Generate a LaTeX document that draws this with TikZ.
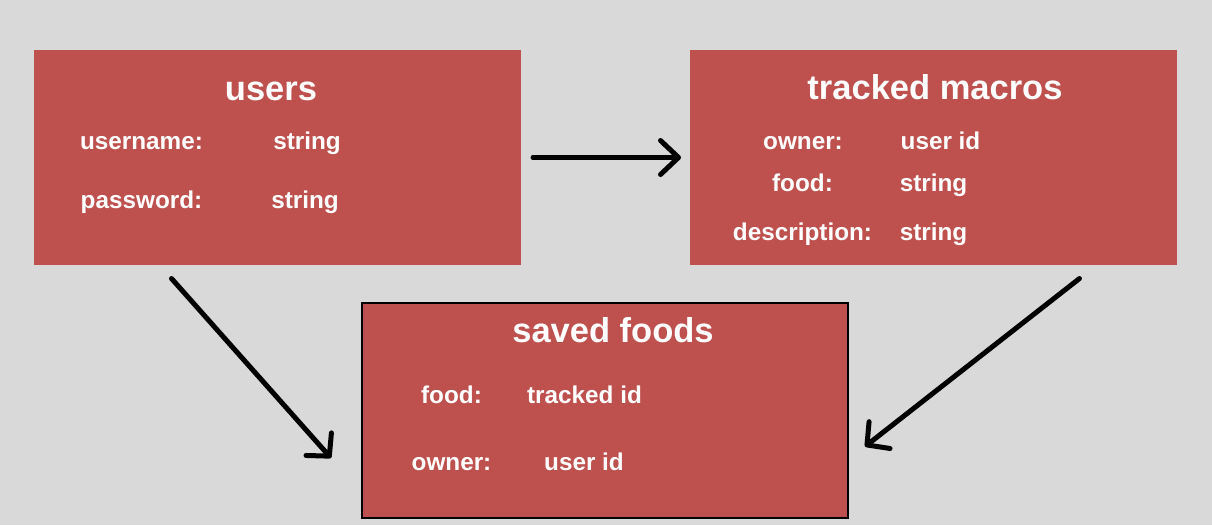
\documentclass[tikz,border=0pt]{standalone}
\usepackage{fontspec}
\setmainfont{Liberation Sans}
\usetikzlibrary{arrows.meta}
\definecolor{bgc}{HTML}{D9D9D9}
\definecolor{boxred}{HTML}{BE504E}
\tikzset{
  tablebox/.style={fill=boxred, draw=none, inner sep=0pt, outer sep=0pt, minimum width=487pt, minimum height=215pt},
  framedbox/.style={tablebox, draw=black, line width=1.5pt},
  title/.style={text=white, inner sep=0pt, anchor=base, font=\bfseries\fontsize{34.5}{40}\selectfont},
  field/.style={text=white, inner sep=0pt, anchor=base, font=\bfseries\fontsize{24.3}{28}\selectfont},
  link/.style={line width=5pt, line cap=round, line join=round, black},
  hbarb/.style={-{Straight Barb[length=18pt, width=34pt, line cap=round, line join=round]}},
  dbarb/.style={-{Straight Barb[length=16pt, width=34pt, line cap=round, line join=round]}}
}
\begin{document}
\begin{tikzpicture}[x=1pt, y=-1pt]
\fill[bgc] (0,0) rectangle (1212,525);
\useasboundingbox (0,0) rectangle (1212,525);

% boxes
\node[tablebox] (users) at (277.5,157.5) {};
\node[tablebox] (tracked) at (933.5,157.5) {};
\node[framedbox, minimum width=486pt] (saved) at (605,410.5) {};

% users
\node[title] (usersT) at (271,100) {users};
\node[field] (uName) at (141.5,149) {username:};
\node[field] (uNameV) at (307,149) {string};
\node[field] (uPass) at (141.5,208) {password:};
\node[field] (uPassV) at (305,208) {string};

% tracked macros
\node[title] (trackedT) at (935,99) {tracked macros};
\node[field] (tOwner) at (803,149) {owner:};
\node[field] (tOwnerV) at (940.5,149) {user id};
\node[field] (tFood) at (802.5,191) {food:};
\node[field] (tFoodV) at (933.5,191) {string};
\node[field] (tDesc) at (802.5,240) {description:};
\node[field] (tDescV) at (933.5,240) {string};

% saved foods
\node[title] (savedT) at (613,342) {saved foods};
\node[field] (sFood) at (451.5,403) {food:};
\node[field] (sFoodV) at (584.5,403) {tracked id};
\node[field] (sOwner) at (451.5,470) {owner:};
\node[field] (sOwnerV) at (584,470) {user id};

% connectors
\coordinate (a1s) at (171.5,278.5);
\coordinate (a1e) at (331,458);
\coordinate (a2s) at (1079.5,278.5);
\coordinate (a2e) at (865,446.5);

\draw[link, hbarb, shorten <=12pt, shorten >=9pt] (users.east) -- (tracked.west);
\draw[link, dbarb] (a1s) -- (a1e);
\draw[link, dbarb] (a2s) -- (a2e);
\end{tikzpicture}
\end{document}
